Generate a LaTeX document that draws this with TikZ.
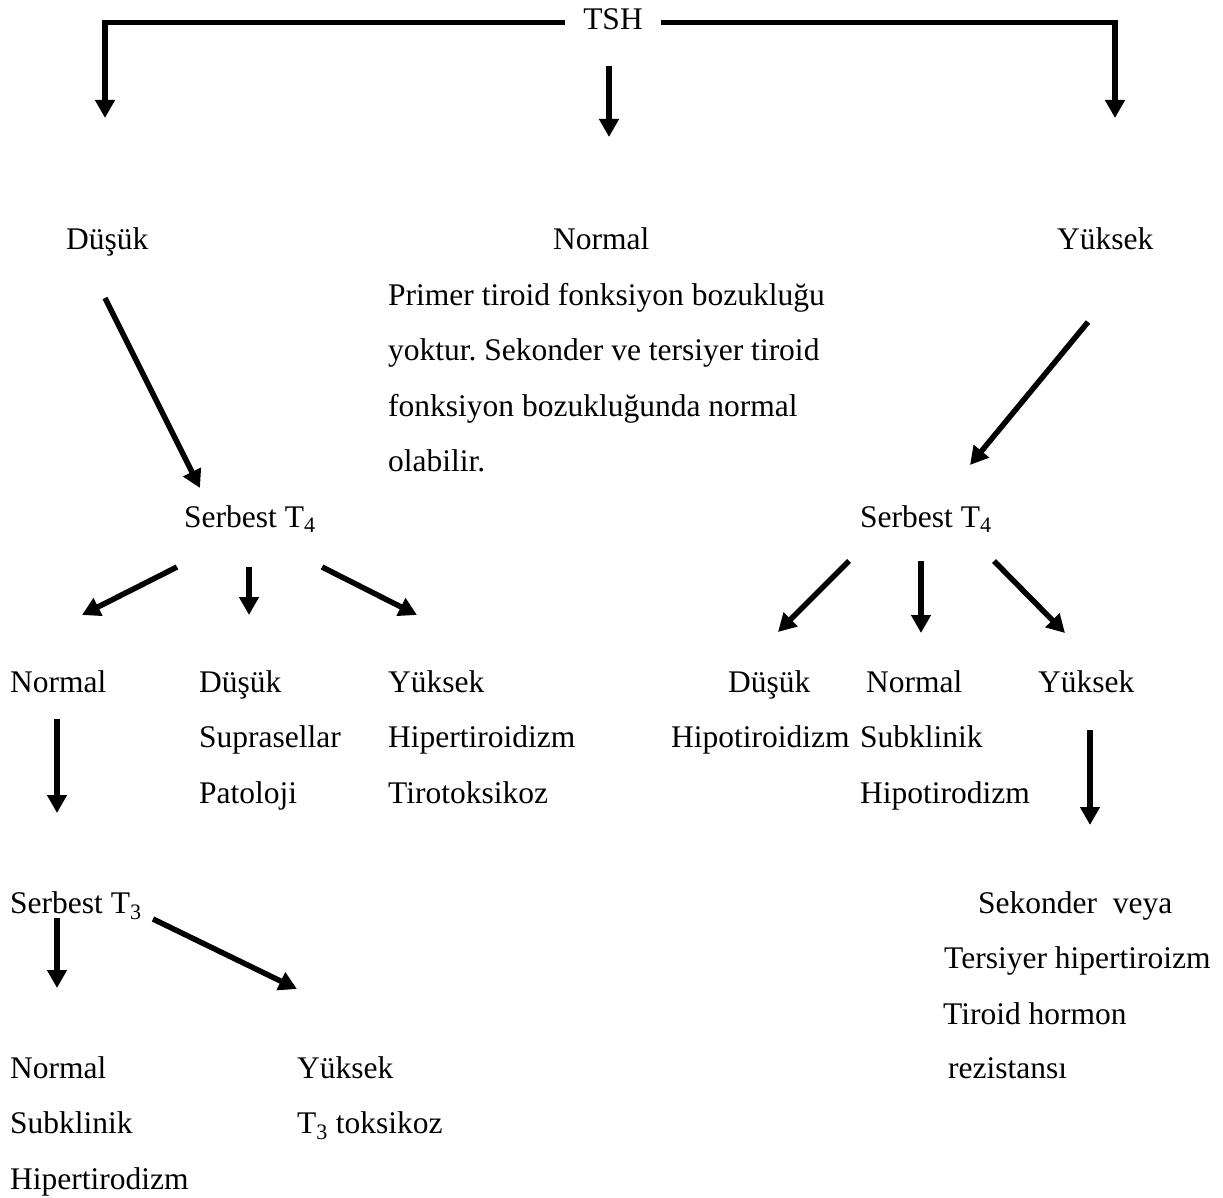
\documentclass[tikz,border=0pt]{standalone}
\usepackage{fontspec}
\setmainfont{Liberation Serif}
\usetikzlibrary{arrows.meta}
\frenchspacing

\begin{document}
\begin{tikzpicture}[
		x = 1pt, y = -1pt,
		> = {Triangle[length=18pt,width=19pt]},
		lbl/.style = {anchor=base west, inner sep=0pt, align=left,
			font=\fontsize{31.5}{55.5}\selectfont},
		arr/.style = {->, line width=5.5pt}
		]
		\useasboundingbox (0,0) rectangle (1223,1198);
		% top level
		\node[lbl, anchor=base, inner xsep=18pt] (tsh) at (613,30) {TSH};
		\node[lbl] (dus)  at (66,250)   {Düşük};
		\node[lbl] (nor)  at (553,250)  {Normal};
		\node[lbl] (yuk)  at (1057,250) {Yüksek};
		\node[lbl] (prim) at (388,471.5)  {Primer tiroid fonksiyon bozukluğu\\
			yoktur. Sekonder ve tersiyer tiroid\\
			fonksiyon bozukluğunda normal\\
			olabilir.};
		% second level
		\node[lbl] (ftL) at (184,527) {Serbest T\textsubscript{4}};
		\node[lbl] (ftR) at (860,527) {Serbest T\textsubscript{4}};
		\node[lbl] (LN) at (10,692)  {Normal};
		\node[lbl] (LD) at (199,803) {Düşük\\ Suprasellar\\ Patoloji};
		\node[lbl] (LY) at (388,803) {Yüksek\\ Hipertiroidizm\\ Tirotoksikoz};
		\node[lbl] (RD) at (728,692) {Düşük};
		\node[lbl] (RDx) at (671,747) {Hipotiroidizm};
		\node[lbl] (RN) at (866,692) {Normal};
		\node[lbl] (RNx) at (860,803) {Subklinik\\ Hipotirodizm};
		\node[lbl] (RY) at (1038,692) {Yüksek};
		% third level
		\node[lbl] (ft3) at (10,913) {Serbest T\textsubscript{3}};
		\node[lbl] (T3N) at (10,1189) {Normal\\ Subklinik\\ Hipertirodizm};
		\node[lbl] (T3Y) at (297,1133.5) {Yüksek\\ T\textsubscript{3} toksikoz};
		\node[lbl] (sek1) at (978,913)  {Sekonder\ \ veya};
		\node[lbl] (sek2) at (944,968)  {Tersiyer hipertiroizm};
		\node[lbl] (sek3) at (943,1024) {Tiroid hormon};
		\node[lbl] (sek4) at (948,1078) {rezistansı};
		% arrow ends
		\coordinate (dusT) at (105,118);
		\coordinate (yukT) at (1115,118);
		\coordinate (norS) at (609,66);   \coordinate (norT) at (609,137);
		\coordinate (dusS) at (105,298);  \coordinate (ftLT) at (200,488);
		\coordinate (yukS) at (1088,322); \coordinate (ftRT) at (970,465);
		\coordinate (a1) at (177,567); \coordinate (b1) at (82,615);
		\coordinate (a2) at (249,567); \coordinate (b2) at (249,615);
		\coordinate (a3) at (322,567); \coordinate (b3) at (417,615);
		\coordinate (c1) at (849,561); \coordinate (d1) at (778,632);
		\coordinate (c2) at (921,561); \coordinate (d2) at (921,633);
		\coordinate (c3) at (994,561); \coordinate (d3) at (1065,633);
		\coordinate (e1) at (57,719);   \coordinate (f1) at (57,813);
		\coordinate (e2) at (1090,730); \coordinate (f2) at (1090,825);
		\coordinate (g1) at (57,918);   \coordinate (h1) at (57,988);
		\coordinate (g2) at (153,919);  \coordinate (h2) at (297,989);
		% arrows
		\draw[arr] ([yshift=-3pt]tsh.west) -| (dusT);
		\draw[arr] ([yshift=-3pt]tsh.east) -| (yukT);
		\draw[arr] (norS) -- (norT);
		\draw[arr] (dusS) -- (ftLT);
		\draw[arr] (yukS) -- (ftRT);
		\foreach \s/\t in {a1/b1, a2/b2, a3/b3, c1/d1, c2/d2, c3/d3, e1/f1, e2/f2, g1/h1, g2/h2}
			\draw[arr] (\s) -- (\t);
\end{tikzpicture}
\end{document}
